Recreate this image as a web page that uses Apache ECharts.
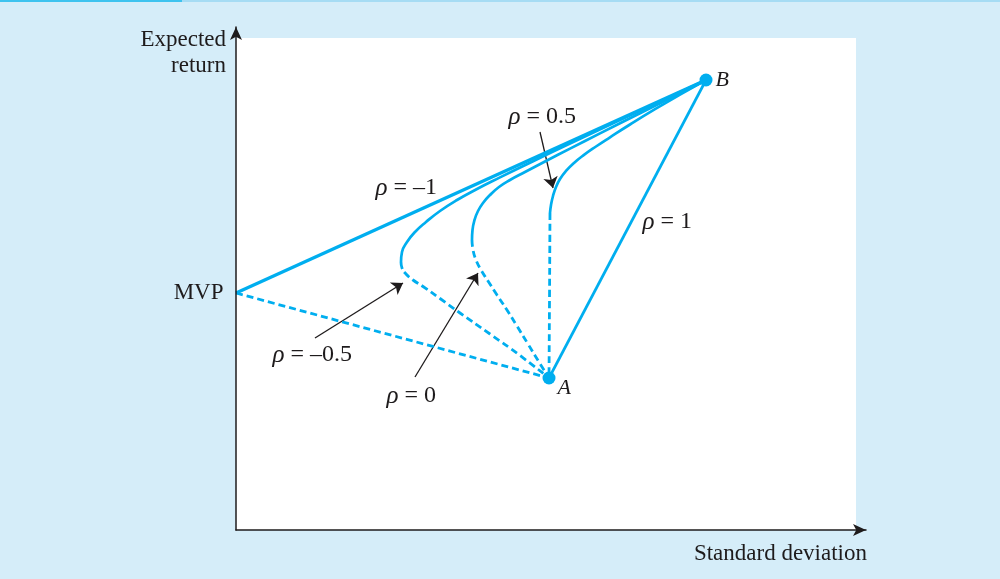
<!DOCTYPE html>
<html>
<head>
<meta charset="utf-8">
<title>Portfolio frontier</title>
<script src="https://cdn.jsdelivr.net/npm/echarts@6/dist/echarts.min.js"></script>
<style>
  html, body { margin: 0; padding: 0; background: #d5edf9; }
  #main { width: 1000px; height: 579px; }
</style>
</head>
<body>
<div id="main"></div>
<script type="text/javascript">
// values: x = standard deviation, y = expected return (arbitrary units)
var mvp = [0, 23.7];
var pointA = [31.3, 15.2];
var pointB = [47.0, 45.0];

// rho = -1 and rho = 1 are straight lines
var rhoMinus1Upper = [mvp, pointB];
var rhoMinus1Lower = [mvp, pointA];
var rhoPlus1 = [pointA, pointB];

// rho = -0.5 (solid = efficient part, dashed = inefficient part)
var rhoMinusHalfUpper = [[16.5, 26.8], [16.6, 27.8], [17.1, 28.8], [17.9, 29.8], [19.0, 30.8], [20.4, 31.9],
  [22.1, 33.0], [24.1, 34.1], [26.4, 35.26], [29.4, 36.73], [33.4, 38.65], [38.4, 41.0], [43.4, 43.31], [47.0, 45.0]];
var rhoMinusHalfLower = [[16.5, 26.8], [16.6, 26.2], [17.0, 25.6], [17.7, 25.0], [18.7, 24.35], [20.4, 23.15],
  [22.4, 21.7], [25.4, 19.6], [28.4, 17.45], [31.3, 15.2]];

// rho = 0
var rhoZeroUpper = [[23.6, 29.0], [23.65, 30.0], [23.85, 31.0], [24.2, 31.9], [24.7, 32.7], [25.4, 33.5],
  [26.3, 34.3], [27.4, 35.0], [28.9, 35.8], [30.9, 36.85], [33.4, 38.14], [36.4, 39.66], [40.4, 41.67],
  [44.4, 43.66], [47.0, 45.0]];
var rhoZeroLower = [[23.6, 29.0], [23.7, 28.0], [24.0, 27.0], [24.5, 26.0], [25.2, 24.9], [26.1, 23.5],
  [27.1, 22.0], [28.1, 20.4], [29.2, 18.6], [30.3, 16.8], [31.3, 15.2]];

// rho = 0.5
var rhoHalfUpper = [[31.4, 31.7], [31.5, 32.5], [31.7, 33.4], [32.0, 34.3], [32.4, 35.1], [33.0, 35.91],
  [33.8, 36.71], [34.8, 37.51], [36.0, 38.35], [37.4, 39.27], [39.4, 40.55], [41.9, 42.08], [44.4, 43.54], [47.0, 45.0]];
var rhoHalfLower = [[31.4, 31.7], [31.35, 23.0], [31.3, 15.2]];

// annotations: text and where it sits
var rhoLabels = ['ρ = –1', 'ρ = 0.5', 'ρ = 1', 'ρ = –0.5', 'ρ = 0'];
var rhoLabelPos = [[13.9, 34.2], [27.2, 41.3], [40.6, 30.8], [3.6, 17.5], [15.0, 13.4]];
var arrowLines = [
  [[7.9, 19.2], [16.7, 24.7]],
  [[17.9, 15.3], [24.2, 25.7]],
  [[30.4, 39.8], [31.7, 34.2]]
];

var blue = '#00aeef';
var ink = '#1e1b1c';
var serif = 'Liberation Serif';

var myChart = echarts.init(document.getElementById('main'));

function curve(data, dashed, width) {
  return {
    type: 'line',
    data: data,
    smooth: data.length > 2 ? 0.5 : false,
    showSymbol: false,
    silent: true,
    lineStyle: { color: blue, width: width || (dashed ? 2.8 : 2.7), type: dashed ? [7, 4] : 'solid' }
  };
}

var labelBase = { color: ink, opacity: 1, textBorderWidth: 0, fontFamily: serif };

var series = [
  Object.assign(curve(rhoMinus1Lower, true), {
    markArea: {
      silent: true,
      itemStyle: { color: '#ffffff', opacity: 1 },
      data: [[{ coord: [0, 0] }, { coord: [62, 49.2] }]]
    }
  }),
  curve(rhoMinus1Upper, false, 3.4),
  curve(rhoPlus1, false, 2.7),
  curve(rhoMinusHalfUpper, false),
  curve(rhoMinusHalfLower, true),
  curve(rhoZeroUpper, false),
  curve(rhoZeroLower, true),
  curve(rhoHalfUpper, false),
  curve(rhoHalfLower, true),
  {
    type: 'lines',
    coordinateSystem: 'cartesian2d',
    silent: true,
    symbol: ['none', 'arrow'],
    symbolSize: 11,
    lineStyle: { color: ink, width: 1.3, opacity: 1 },
    data: arrowLines.map(function (c) { return { coords: c }; })
  },
  {
    type: 'scatter',
    silent: true,
    symbolSize: 13,
    itemStyle: { color: blue, opacity: 1 },
    data: [
      { value: pointA, label: { show: true, formatter: 'A', position: 'right', distance: 2, offset: [0, 10] } },
      { value: pointB, label: { show: true, formatter: 'B', position: 'right', distance: 3 } }
    ],
    label: Object.assign({ fontSize: 22, fontStyle: 'italic' }, labelBase)
  },
  {
    type: 'scatter',
    silent: true,
    symbolSize: 1,
    itemStyle: { color: 'rgba(0,0,0,0)' },
    data: [{ value: mvp, label: { show: true, formatter: 'MVP', position: 'left', distance: 12 } }],
    label: Object.assign({ fontSize: 23 }, labelBase)
  },
  {
    type: 'scatter',
    silent: true,
    symbolSize: 1,
    itemStyle: { color: 'rgba(0,0,0,0)' },
    data: rhoLabelPos.map(function (p, i) {
      var parts = rhoLabels[i].split(' ');
      return { value: p, label: { formatter: '{i|' + parts[0] + '} ' + parts.slice(1).join(' ') } };
    }),
    label: Object.assign({
      show: true,
      position: 'right',
      distance: 0,
      fontSize: 24,
      rich: { i: { fontFamily: serif, fontSize: 25, fontStyle: 'italic', color: ink } }
    }, labelBase)
  }
];

var option = {
  backgroundColor: '#d5edf9',
  animation: false,
  graphic: [
    { type: 'rect', left: 0, top: 0, shape: { width: 182, height: 2 }, style: { fill: '#3ec3ef' } },
    { type: 'rect', left: 182, top: 0, shape: { width: 818, height: 2 }, style: { fill: '#a6dcf4' } }
  ],
  grid: { left: 236, right: 134, top: 27, bottom: 49 },
  xAxis: {
    type: 'value',
    min: 0,
    max: 63,
    z: 10,
    name: 'Standard deviation',
    nameLocation: 'end',
    nameGap: 1,
    nameTextStyle: {
      fontFamily: serif, fontSize: 23, color: ink,
      align: 'right', verticalAlign: 'top', lineHeight: 23, padding: [12, 0, 0, 0]
    },
    axisLine: { show: true, symbol: ['none', 'arrow'], symbolSize: [9, 13], lineStyle: { color: ink, width: 1.5 } },
    axisTick: { show: false },
    axisLabel: { show: false },
    splitLine: { show: false }
  },
  yAxis: {
    type: 'value',
    min: 0,
    max: 50.3,
    z: 10,
    name: 'Expected\nreturn',
    nameLocation: 'end',
    nameGap: -52,
    nameTextStyle: {
      fontFamily: serif, fontSize: 23, color: ink,
      align: 'right', verticalAlign: 'bottom', lineHeight: 26, padding: [0, 10, 0, 0]
    },
    axisLine: { show: true, symbol: ['none', 'arrow'], symbolSize: [9, 13], lineStyle: { color: ink, width: 1.5 } },
    axisTick: { show: false },
    axisLabel: { show: false },
    splitLine: { show: false }
  },
  series: series
};

myChart.setOption(option);
</script>
</body>
</html>
